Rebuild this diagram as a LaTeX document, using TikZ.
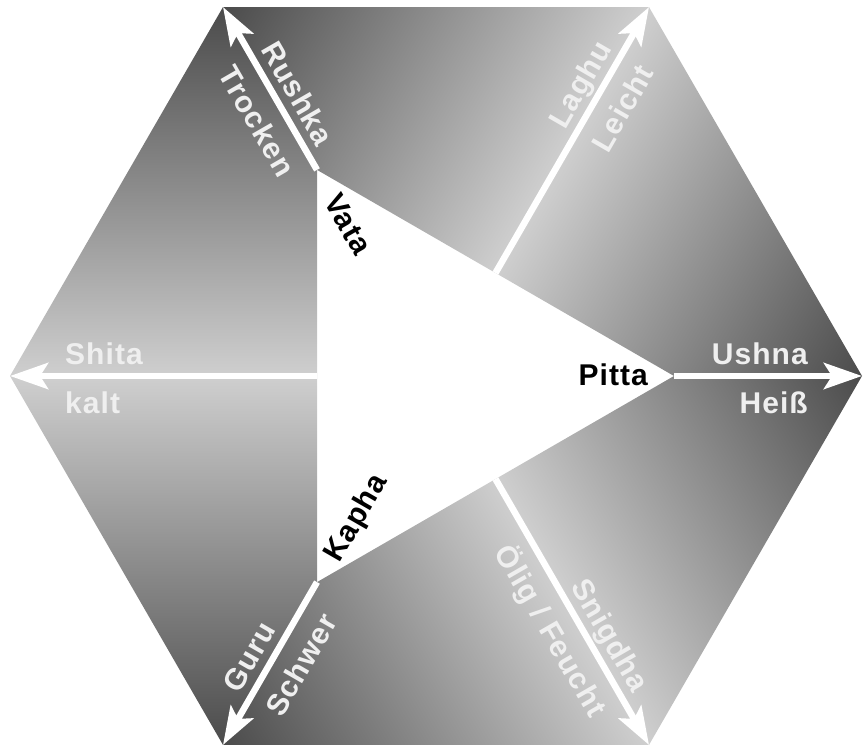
\documentclass[tikz,border=0pt]{standalone}
\usepackage{fontspec}
\setmainfont{Liberation Sans}
\newfontfamily\lblfont[LetterSpace=3.5]{Liberation Sans}
\usetikzlibrary{arrows.meta,calc}
\definecolor{gdark}{HTML}{4B4B4B}
\definecolor{glight}{HTML}{CFCFCF}
\definecolor{lbltext}{HTML}{EFEFEF}
\newcommand\gradregion[2]{%
  \begin{scope}
    \clip #1;
    \begin{scope}[transform canvas={shift={(436pt,369pt)}, rotate=#2}]
      \shade[bottom color=glight, top color=gdark] (-470,0) rectangle (470,369);
    \end{scope}
  \end{scope}}
\begin{document}
\begin{tikzpicture}[x=1pt,y=1pt,
  arr/.style={draw=white, line width=6.5pt, -{Stealth[length=38pt,width=26pt,inset=8pt]}},
  lbl/.style={font=\lblfont\bfseries\fontsize{30}{30}\selectfont, text=lbltext, inner sep=0pt},
  dosha/.style={font=\lblfont\bfseries\fontsize{30}{30}\selectfont, text=black, inner sep=0pt}]
\useasboundingbox (0,0) rectangle (865,745);
\coordinate (O) at (436,369);
\foreach \a in {0,60,...,300} { \path (O) ++(\a:426pt) coordinate (H\a); }
\path (O) ++(0:238pt) coordinate (T0);
\path (O) ++(120:238pt) coordinate (T120);
\path (O) ++(240:238pt) coordinate (T240);
\coordinate (M60) at ($(T0)!0.5!(T120)$);
\coordinate (M180) at ($(T120)!0.5!(T240)$);
\coordinate (M300) at ($(T240)!0.5!(T0)$);

% gradient regions
\gradregion{(H120) -- (H180) -- (M180) -- (T120) -- cycle}{0}
\gradregion{(H120) -- (H60) -- (M60) -- (T120) -- cycle}{60}
\gradregion{(H60) -- (H0) -- (T0) -- (M60) -- cycle}{-120}
\gradregion{(H0) -- (H300) -- (M300) -- (T0) -- cycle}{300}
\gradregion{(H300) -- (H240) -- (T240) -- (M300) -- cycle}{120}
\gradregion{(H240) -- (H180) -- (M180) -- (T240) -- cycle}{180}

% arrows
\draw[arr] (T120) -- (H120);
\draw[arr] (M60) -- (H60);
\draw[arr] (T0) -- (H0);
\draw[arr] (M300) -- (H300);
\draw[arr] (T240) -- (H240);
\draw[arr] (M180) -- (H180);

% labels
\begin{scope}[shift={(H120)}, rotate=-60, transform shape]
  \node[lbl, anchor=base west] (rushka) at (55,11) {Rushka};
  \node[lbl, anchor=base west] (trocken) at (55,-38) {Trocken};
\end{scope}
\begin{scope}[shift={(H60)}, rotate=60, transform shape]
  \node[lbl, anchor=base east] (laghu) at (-54,11) {Laghu};
  \node[lbl, anchor=base east] (leicht) at (-54,-38) {Leicht};
\end{scope}
\begin{scope}[shift={(H0)}]
  \node[lbl, anchor=base east] (ushna) at (-54,11) {Ushna};
  \node[lbl, anchor=base east] (heiss) at (-54,-38) {Heiß};
\end{scope}
\begin{scope}[shift={(H300)}, rotate=-60, transform shape]
  \node[lbl, anchor=base east] (snigdha) at (-52,11) {Snigdha};
  \node[lbl, anchor=base east] (oelig) at (-52,-38) {Ölig / Feucht};
\end{scope}
\begin{scope}[shift={(H240)}, rotate=60, transform shape]
  \node[lbl, anchor=base west] (guru) at (52,11) {Guru};
  \node[lbl, anchor=base west] (schwer) at (52,-38) {Schwer};
\end{scope}
\begin{scope}[shift={(H180)}]
  \node[lbl, anchor=base west] (shita) at (55,11) {Shita};
  \node[lbl, anchor=base west] (kalt) at (55,-38) {kalt};
\end{scope}

% dosha labels
\node[dosha, anchor=east] (pitta) at ($(T0)+(-26,1)$) {Pitta};
\begin{scope}[shift={(T120)}, rotate=-60, transform shape]
  \node[dosha, anchor=west] (vata) at (30,0) {Vata};
\end{scope}
\begin{scope}[shift={(T240)}, rotate=60, transform shape]
  \node[dosha, anchor=west] (kapha) at (27,-3) {Kapha};
\end{scope}
\end{tikzpicture}
\end{document}
